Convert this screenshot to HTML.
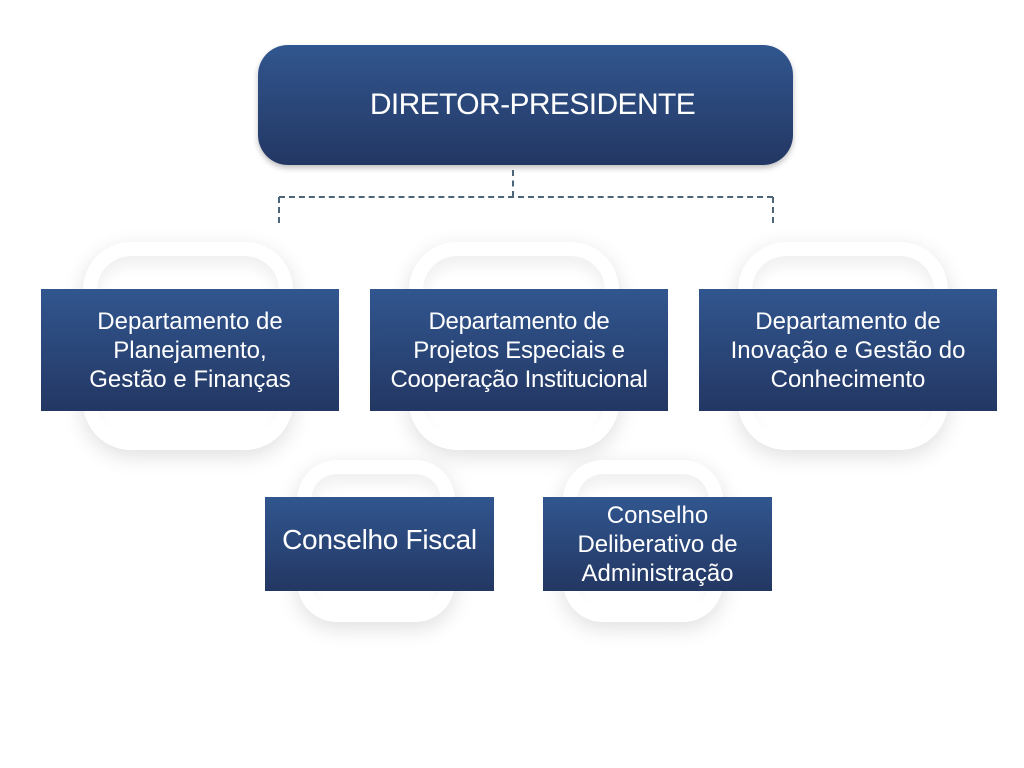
<!DOCTYPE html>
<html><head><meta charset="utf-8"><style>
body{margin:0;width:1024px;height:768px;background:#fff;position:relative;overflow:hidden;font-family:"Liberation Sans",sans-serif;}
.deco{position:absolute;border-radius:48px;background:#fff;box-shadow:0 6px 22px rgba(0,0,0,0.13), inset 0 10px 14px rgba(0,0,0,0.06);border:14px solid #fff;box-sizing:border-box;}
.box{position:absolute;background:linear-gradient(#31568f,#233763);color:#fff;display:flex;align-items:center;justify-content:center;text-align:center;box-sizing:border-box;}
.d{font-size:24px;line-height:29px;letter-spacing:0px;}
.line{position:absolute;border-color:#4d6578;border-style:dashed;border-width:0;}
</style></head><body>
<div class="deco" style="left:83px;top:242px;width:210px;height:208px"></div>
<div class="deco" style="left:409px;top:242px;width:210px;height:208px"></div>
<div class="deco" style="left:738px;top:242px;width:210px;height:208px"></div>
<div class="deco" style="left:297px;top:460px;width:158px;height:162px;border-radius:40px"></div>
<div class="deco" style="left:563px;top:460px;width:160px;height:162px;border-radius:40px"></div>

<div class="box" style="left:258px;top:45px;width:535px;height:120px;border-radius:30px;font-size:30px;box-shadow:0 3px 6px rgba(0,0,0,0.25);letter-spacing:-0.6px;padding-left:14px">DIRETOR-PRESIDENTE</div>

<div class="line" style="left:512px;top:170px;height:27px;border-left-width:2px"></div>
<div class="line" style="left:279px;top:196px;width:494px;border-top-width:2px"></div>
<div class="line" style="left:278px;top:197px;height:26px;border-left-width:2px"></div>
<div class="line" style="left:772px;top:197px;height:26px;border-left-width:2px"></div>

<div class="box d" style="left:41px;top:289px;width:298px;height:122px">Departamento de<br>Planejamento,<br>Gestão e Finanças</div>
<div class="box d" style="left:370px;top:289px;width:298px;height:122px;letter-spacing:-0.3px">Departamento de<br>Projetos Especiais e<br>Cooperação Institucional</div>
<div class="box d" style="left:699px;top:289px;width:298px;height:122px">Departamento de<br>Inovação e Gestão do<br>Conhecimento</div>

<div class="box" style="left:265px;top:497px;width:229px;height:94px;font-size:28px;padding-bottom:8px;letter-spacing:-0.3px">Conselho Fiscal</div>
<div class="box d" style="left:543px;top:497px;width:229px;height:94px;line-height:29px;font-size:24px">Conselho<br>Deliberativo de<br>Administração</div>
</body></html>
